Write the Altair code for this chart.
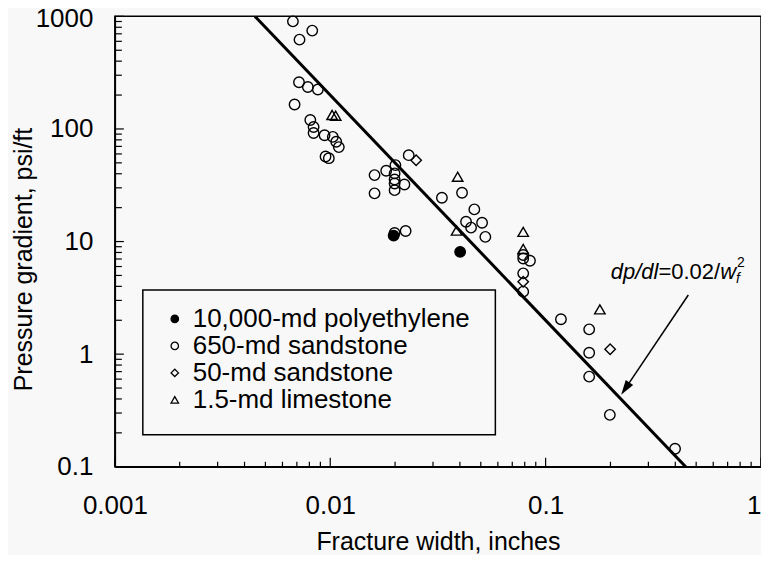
import altair as alt
import pandas as pd

# ---------------- data ----------------
series_names = ["10,000-md polyethylene", "650-md sandstone", "50-md sandstone", "1.5-md limestone"]

poly_w = [0.0197, 0.0401]
poly_dp = [11.3, 8.1]

sand650_w = [0.00671, 0.00825, 0.00720, 0.00716, 0.00787, 0.00876, 0.00683, 0.00808,
             0.00837, 0.00837, 0.00941, 0.01028, 0.01066, 0.01096, 0.00951, 0.00985,
             0.02314, 0.02007, 0.01819, 0.01606, 0.0199, 0.0199, 0.0199, 0.0199,
             0.0221, 0.01606, 0.0330, 0.02239, 0.0199, 0.04092, 0.04667, 0.04271,
             0.04506, 0.0507, 0.0525, 0.0787, 0.0787, 0.0846, 0.0787, 0.0787,
             0.1178, 0.1593, 0.1593, 0.1593, 0.1987, 0.399]
sand650_dp = [903, 747, 621, 260, 236, 224, 165, 120,
              104, 92, 88, 85, 77, 69, 57, 55,
              58.5, 47.7, 42.5, 38.9, 40.3, 35.6, 32.8, 28.6,
              32.1, 26.8, 24.5, 12.4, 11.9, 27.1, 19.3, 15.0,
              13.3, 14.7, 11.0, 7.6, 7.07, 6.76, 5.22, 3.59,
              2.04, 1.66, 1.03, 0.632, 0.289, 0.1445]

sand50_w = [0.02505, 0.0787, 0.1993]
sand50_dp = [52.8, 4.40, 1.106]

lime_w = [0.0102, 0.0106, 0.03905, 0.0386, 0.0787, 0.0787, 0.1786]
lime_dp = [133, 131, 37.6, 12.5, 12.2, 8.6, 2.50]

# fitted line dp/dl = 0.02 / w^2, end points where it meets the frame
line_w = [0.00447, 0.447]
line_dp = [1000, 0.1]

# annotation
note_w = [0.2008]
note_dp = [5.4]
arrow_w = [0.4597, 0.2344]
arrow_dp = [3.35, 0.494]

x_major = [0.001, 0.01, 0.1, 1]
y_major = [0.1, 1, 10, 100, 1000]
x_minor = [m * 10.0 ** e for e in (-3, -2, -1) for m in range(2, 10)]
y_minor = [m * 10.0 ** e for e in (-1, 0, 1, 2) for m in range(2, 10)]

# ---------------- tables ----------------
rows = []
for name, ws, ds in zip(series_names,
                        [poly_w, sand650_w, sand50_w, lime_w],
                        [poly_dp, sand650_dp, sand50_dp, lime_dp]):
    for w, d in zip(ws, ds):
        rows.append({"w": w, "dp": d, "series": name})
df = pd.DataFrame(rows)

FONT = "Liberation Sans"
W, H = 647, 451

x_scale = alt.Scale(type="log", domain=[0.001, 1])
y_scale = alt.Scale(type="log", domain=[0.1, 1000])

x_axis = alt.Axis(values=x_major, format="~g", ticks=False, grid=False, labelPadding=26,
                  labelFontSize=26, titleFontSize=25, labelFlush=False, labelBound=False,
                  labelAlign={"condition": {"test": "datum.value >= 1", "value": "right"},
                              "value": "center"},
                  titleY=83, titleBaseline="alphabetic", titleFontWeight="normal")
y_axis = alt.Axis(values=y_major, format="~g", ticks=False, grid=False, labelPadding=22,
                  labelFontSize=26, titleFontSize=25, labelFlush=False,
                  labelOffset={"condition": {"test": "datum.value >= 1000", "value": 2},
                               "value": 0},
                  titleX=-91, titleY=243, titleBaseline="middle", titleFontWeight="normal")

X_TITLE = "Fracture width, inches"
Y_TITLE = "Pressure gradient, psi/ft"


def X(field="w:Q", **kw):
    return alt.X(field, scale=x_scale, axis=x_axis, title=X_TITLE, **kw)


def Y(field="dp:Q", **kw):
    return alt.Y(field, scale=y_scale, axis=y_axis, title=Y_TITLE, **kw)


legend = alt.Legend(title=None, orient="none", legendX=47, legendY=290,
                    labelFontSize=26, labelFont=FONT, labelColor="black", labelLimit=0,
                    symbolSize=55, symbolStrokeColor="black", symbolStrokeWidth=1.3,
                    rowPadding=1, labelOffset=5, padding=0)

points = alt.Chart(df).mark_point(filled=True, strokeWidth=1.4, size=110, opacity=1).encode(
    x=X(),
    y=Y(),
    shape=alt.Shape("series:N", legend=legend,
                    scale=alt.Scale(domain=series_names,
                                    range=["circle", "circle", "diamond", "triangle-up"])),
    fill=alt.Fill("series:N", legend=legend,
                  scale=alt.Scale(domain=series_names,
                                  range=["black", "transparent", "transparent", "transparent"])),
    stroke=alt.Stroke("series:N", legend=legend,
                      scale=alt.Scale(domain=series_names,
                                      range=["black", "black", "black", "black"])),
)

line = alt.Chart(pd.DataFrame({"w": line_w, "dp": line_dp})).mark_line(
    color="black", strokeWidth=3, clip=True).encode(x=X(), y=Y())

xmin_t = alt.Chart(pd.DataFrame({"w": x_minor})).mark_rule(color="black", strokeWidth=1.2).encode(
    x=X(), y=alt.value(H), y2=alt.value(H - 5))
xmaj_t = alt.Chart(pd.DataFrame({"w": x_major})).mark_rule(color="black", strokeWidth=1.2).encode(
    x=X(), y=alt.value(H), y2=alt.value(H - 9))
ymin_t = alt.Chart(pd.DataFrame({"dp": y_minor})).mark_rule(color="black", strokeWidth=1.2).encode(
    y=Y(), x=alt.value(0), x2=alt.value(7))
ymaj_t = alt.Chart(pd.DataFrame({"dp": y_major})).mark_rule(color="black", strokeWidth=1.2).encode(
    y=Y(), x=alt.value(0), x2=alt.value(9))

legend_box = alt.Chart(pd.DataFrame({"a": [0]})).mark_rect(
    fill="#f8f8f8", stroke="black", strokeWidth=1.5).encode(
    x=alt.value(28), x2=alt.value(381), y=alt.value(274), y2=alt.value(419))

arrow_df = pd.DataFrame({"w": [arrow_w[0]], "dp": [arrow_dp[0]], "w2": [arrow_w[1]], "dp2": [arrow_dp[1]]})
arrow_line = alt.Chart(arrow_df).mark_rule(color="black", strokeWidth=1.5).encode(
    x=X(), y=Y(), x2="w2:Q", y2="dp2:Q")
arrow_head = alt.Chart(pd.DataFrame({"w": [arrow_w[1]], "dp": [arrow_dp[1]]})).mark_point(
    shape="M0,-1L0.6,1L-0.6,1Z", size=225, filled=True, color="black", opacity=1, angle=213.9).encode(
    x=X(), y=Y())

note_df = pd.DataFrame({"w": note_w, "dp": note_dp})


def note(text, dx, dy, size, italic):
    return alt.Chart(note_df).mark_text(
        text=text, align="left", baseline="middle", dx=dx, dy=dy, fontSize=size, font=FONT,
        fontStyle="italic" if italic else "normal", color="black").encode(x=X(), y=Y())


notes = [
    note("dp/dl", 0, 0, 22, True),
    note("=0.02/", 47.7, 0, 22, False),
    note("w", 109.5, 0, 22, True),
    note("f", 125.4, 7, 14, True),
    note("2", 126.4, -9, 14, False),
]

chart = alt.layer(legend_box, line, xmin_t, xmaj_t, ymin_t, ymaj_t, points,
                  arrow_line, arrow_head, *notes).properties(
    width=W, height=H,
    autosize=alt.AutoSizeParams(type="none"),
    padding={"left": 107, "top": 8, "right": 0, "bottom": 88},
    background="#f8f8f8",
).configure_view(stroke="black", strokeWidth=1.5).configure_axis(
    domainColor="black", domainWidth=1.5, labelColor="black", titleColor="black",
    labelFont=FONT, titleFont=FONT,
).configure_legend(labelFont=FONT)

chart.save("out.html", embed_options={"renderer": "svg", "actions": False})
